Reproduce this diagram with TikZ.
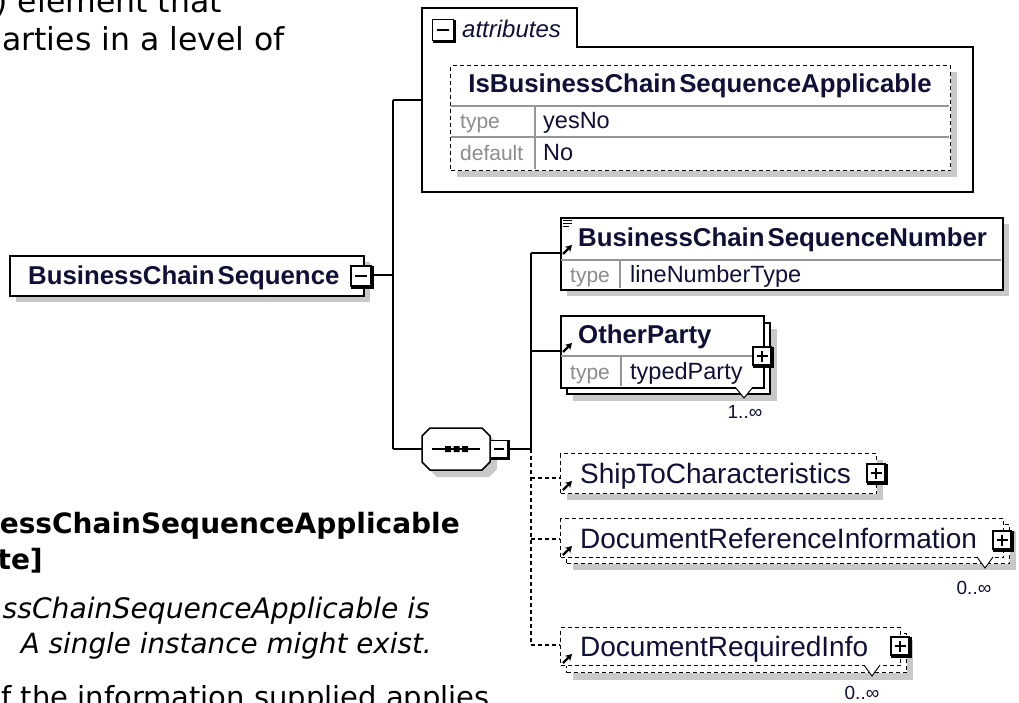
\documentclass[tikz,border=0pt]{standalone}
\usepackage{fontspec}
\setmainfont{DejaVu Sans}
\newfontfamily\arial{Liberation Sans}
\usetikzlibrary{arrows.meta}
\definecolor{ink}{RGB}{15,15,55}
\definecolor{shade}{RGB}{200,200,200}
\definecolor{lbl}{RGB}{140,140,140}
\definecolor{sepc}{RGB}{150,150,150}
\tikzset{
 ln/.style={line width=1.5pt},
 dsh/.style={line width=1.4pt, dash pattern=on 4pt off 3pt},
 shadowfill/.style={fill=shade, draw=none},
 ename/.style={font=\arial\bfseries\fontsize{25.8}{30}\selectfont, text=ink, anchor=base west, inner sep=0pt},
 oname/.style={font=\arial\fontsize{28}{32}\selectfont, text=ink, anchor=base west, inner sep=0pt},
 tlbl/.style={font=\arial\fontsize{21}{24}\selectfont, text=lbl, anchor=base west, inner sep=0pt},
 tval/.style={font=\arial\fontsize{23.5}{28}\selectfont, text=ink, anchor=base west, inner sep=0pt},
 mult/.style={font=\arial\fontsize{19}{22}\selectfont, text=ink, anchor=base, inner sep=0pt},
 bgtext/.style={font=\fontsize{31.5}{38}\selectfont, anchor=base east, inner sep=0pt, text=black},
 bgbold/.style={bgtext, font=\bfseries\fontsize{28}{34}\selectfont},
 bgitalA/.style={bgtext, font=\itshape\fontsize{28.2}{34}\selectfont},
 bgitalB/.style={bgtext, font=\itshape\fontsize{27.8}{34}\selectfont},
 bgtextC/.style={bgtext, font=\fontsize{29}{34}\selectfont},
 refarrow/.style={line width=2.3pt, -{Stealth[length=6.5pt,width=7.5pt]}},
 pics/minusbox/.style={code={
   \draw[line width=1.3pt, fill=white] (-9,-9) rectangle (9,9);
   \draw[line width=2.6pt] (10.2,-9) -- (10.2,10.2) -- (-9,10.2);
   \draw[line width=1.2pt] (-5.5,0) -- (5.5,0);
 }},
 pics/plusbox/.style={code={
   \draw[line width=1.3pt, fill=white] (-9,-9) rectangle (9,9);
   \draw[line width=2.6pt] (10.2,-9) -- (10.2,10.2) -- (-9,10.2);
   \draw[line width=1.2pt] (-5.5,0) -- (5.5,0) (0,-5.5) -- (0,5.5);
 }},
}
\begin{document}
\begin{tikzpicture}[x=1pt,y=-1pt]
\useasboundingbox (0,0) rectangle (1019,702);
\clip (0,0) rectangle (1019,702);
\fill[white] (0,0) rectangle (1019,702);

% ---------- background page text ----------
\node[bgtext] (t1) at (222,12) {) element that};
\node[bgtext] (t2) at (285,50) {arties in a level of};
\node[bgbold] (t3) at (460,533) {essChainSequenceApplicable};
\node[bgbold] (t4) at (43,569) {te]};
\node[bgitalA] (t5) at (430,618) {ssChainSequenceApplicable is};
\node[bgitalB] (t6) at (432,653) {A single instance might exist.};
\node[bgtextC] (t7) at (490,707) {f the information supplied applies};

% ---------- connectors ----------
\coordinate (mainOut) at (372,275);
\coordinate (j1) at (393,275);
\coordinate (j1top) at (393,100);
\coordinate (j1bot) at (393,449);
\coordinate (attIn) at (422,100);
\coordinate (seqIn) at (422,449);
\coordinate (seqOut) at (509,449);
\coordinate (sp1) at (531,253);
\coordinate (sp2) at (531,351);
\coordinate (spm) at (531,449);
\coordinate (sp3) at (531,478);
\coordinate (sp4) at (531,539);
\coordinate (sp5) at (531,645);
\coordinate (in1) at (560,253);
\coordinate (in2) at (560,351);
\coordinate (in3) at (560,478);
\coordinate (in4) at (560,539);
\coordinate (in5) at (560,645);
\draw[ln] (mainOut) -- (j1) (j1top) -- (j1bot) (j1top) -- (attIn) (j1bot) -- (seqIn);
\draw[ln] (seqOut) -- (spm) (sp1) -- (spm) (sp1) -- (in1) (sp2) -- (in2);
\draw[dsh] (spm) -- (sp5) (sp3) -- (in3) (sp4) -- (in4) (sp5) -- (in5);

% ---------- main element ----------
\fill[shadowfill] (16,262) rectangle (370,302);
\node[draw, ln, fill=white, inner sep=0pt, minimum width=354pt, minimum height=40pt, anchor=north west] (main) at (9,255) {};
\node[ename] (mainlbl) at (28,284) {BusinessChain\kern3pt Sequence};
\pic[scale=1.1] at (361,276) {minusbox};

% ---------- attributes ----------
\draw[ln, fill=white] (422,192) -- (422,8) -- (577,8) -- (577,47) -- (973,47) -- (973,192) -- cycle;
\coordinate (attrs) at (697,120);
\pic[scale=1.15] at (443,30) {minusbox};
\node[font=\arial\itshape\fontsize{24}{28}\selectfont, text=ink, anchor=base west, inner sep=0pt] (attlbl) at (462,37) {attributes};
\fill[shadowfill] (457,72) rectangle (957,177);
\node[draw, dsh, fill=white, inner sep=0pt, minimum width=500pt, minimum height=105pt, anchor=north west] (attr1) at (450,65) {};
\draw[sepc, line width=1.2pt] (451,106) -- (949,106) (451,137) -- (949,137) (535,106) -- (535,169);
\node[ename, anchor=base] (attr1lbl) at (700,92) {IsBusinessChain\kern3pt SequenceApplicable};
\node[tlbl] (attr1t) at (460,128) {type};
\node[tval] (attr1tv) at (543,128) {yesNo};
\node[tlbl] (attr1d) at (460,160) {default};
\node[tval] (attr1dv) at (543,160) {No};

% ---------- sequence ----------
\coordinate (seq) at (456,449);
\fill[shadowfill] (437,435) -- (489,435) -- (497,443) -- (497,469) -- (489,477) -- (437,477) -- (429,469) -- (429,443) -- cycle;
\draw[ln, fill=white] (430,428) -- (482,428) -- (490,436) -- (490,462) -- (482,470) -- (430,470) -- (422,462) -- (422,436) -- cycle;
\draw[line width=1.3pt] (432,449) -- (480,449);
\fill (445,446) rectangle (451,452) (453.5,446) rectangle (459.5,452) (462,446) rectangle (468,452);
\pic[scale=0.95] at (499,449) {minusbox};

% ---------- BusinessChainSequenceNumber ----------
\fill[shadowfill] (567,224) rectangle (1009,296);
\node[draw, ln, fill=white, inner sep=0pt, minimum width=442pt, minimum height=72pt, anchor=north west] (bcsn) at (560,217) {};
\draw[sepc, line width=1.2pt] (561,260) -- (1001,260) (620,260) -- (620,288);
\node[ename] (bcsnlbl) at (578,246) {BusinessChain\kern3pt SequenceNumber};
\node[tlbl] (bcsnt) at (570,282) {type};
\node[tval] (bcsntv) at (630,282) {lineNumberType};
\draw[line width=0.9pt] (563,220.5) -- (572,220.5) (563,223.5) -- (572,223.5) (563,226.5) -- (569,226.5);
\draw[refarrow] (563,254) -- (572,245);

% ---------- OtherParty ----------
\fill[shadowfill] (573,329) rectangle (777,401);
\node[draw, ln, fill=white, inner sep=0pt, minimum width=203pt, minimum height=71pt, anchor=north west] (opback) at (566,322) {};
\node[draw, ln, fill=white, inner sep=0pt, minimum width=203pt, minimum height=72pt, anchor=north west] (op) at (560,315) {};
\draw[sepc, line width=1.2pt] (561,356) -- (762,356) (621,356) -- (621,386);
\node[ename] (oplbl) at (578,343) {OtherParty};
\node[tlbl] (opt) at (570,379) {type};
\node[tval] (optv) at (630,379) {typedParty};
\draw[refarrow] (563,352) -- (572,343);
\pic at (762,356) {plusbox};
\draw[line width=1pt, fill=white] (735,387) -- (744,398) -- (753,387);
\node[mult] (opm) at (745,418) {1..∞};

% ---------- ShipToCharacteristics ----------
\fill[shadowfill] (567,460) rectangle (883,500);
\node[draw, dsh, fill=white, inner sep=0pt, minimum width=316pt, minimum height=40pt, anchor=north west] (ship) at (560,453) {};
\node[oname] (shiplbl) at (580,483) {ShipToCharacteristics};
\draw[refarrow] (563,490) -- (572,481);
\pic at (876,473) {plusbox};

% ---------- DocumentReferenceInformation ----------
\fill[shadowfill] (573,531) rectangle (1016,570);
\node[draw, dsh, fill=white, inner sep=0pt, minimum width=443pt, minimum height=39pt, anchor=north west] (drback) at (566,524) {};
\node[draw, dsh, fill=white, inner sep=0pt, minimum width=443pt, minimum height=39pt, anchor=north west] (dr) at (560,518) {};
\node[oname] (drlbl) at (580,548) {DocumentReferenceInformation};
\draw[refarrow] (563,555) -- (572,546);
\pic at (1002,540) {plusbox};
\draw[line width=0.9pt, fill=white] (977,557) -- (985,568) -- (993,557);
\node[mult] (drm) at (974,594) {0..∞};

% ---------- DocumentRequiredInfo ----------
\fill[shadowfill] (573,640) rectangle (913,680);
\node[draw, dsh, fill=white, inner sep=0pt, minimum width=340pt, minimum height=39pt, anchor=north west] (dqback) at (566,633) {};
\node[draw, dsh, fill=white, inner sep=0pt, minimum width=340pt, minimum height=38pt, anchor=north west] (dq) at (560,627) {};
\node[oname] (dqlbl) at (580,656) {DocumentRequiredInfo};
\draw[refarrow] (563,663) -- (572,654);
\pic at (900,646) {plusbox};
\draw[line width=0.9pt, fill=white] (864,665) -- (872,676) -- (880,665);
\node[mult] (dqm) at (862,699) {0..∞};
\end{tikzpicture}
\end{document}
